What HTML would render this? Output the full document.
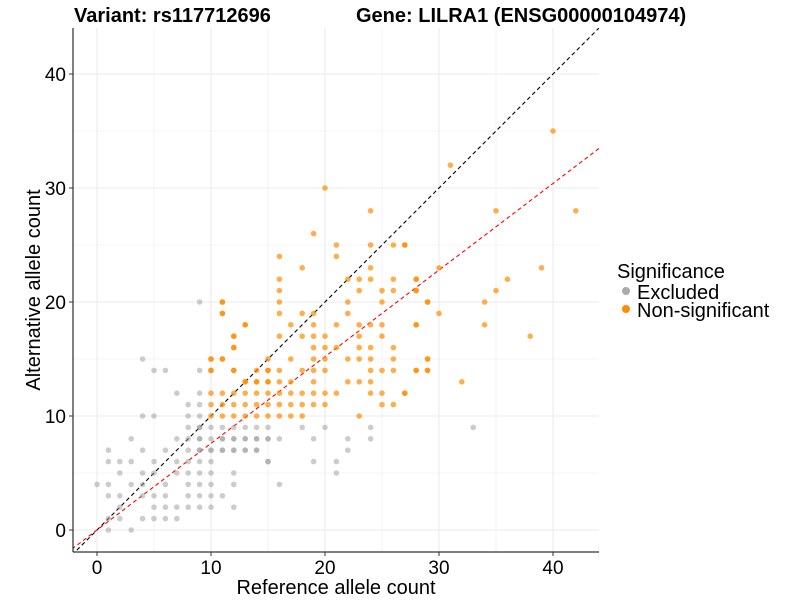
<!DOCTYPE html>
<html><head><meta charset="utf-8"><style>
body{margin:0;background:#fff;}
svg text{font-family:"Liberation Sans",sans-serif;}
</style></head><body>
<svg id="chart" width="800" height="600" xmlns="http://www.w3.org/2000/svg">
<text x="74" y="22" font-size="20" font-weight="bold" fill="#000">Variant: rs117712696</text>
<text x="356" y="22" font-size="20" font-weight="bold" fill="#000">Gene: LILRA1 (ENSG00000104974)</text>
<g id="grid"></g>
<g id="lines"></g>
<g id="pts"></g>
<g id="axes"></g>
<text x="336" y="594" font-size="20" text-anchor="middle">Reference allele count</text>
<text transform="translate(40,290) rotate(-90)" font-size="20" text-anchor="middle">Alternative allele count</text>
<g>
<text x="617" y="278" font-size="20">Significance</text>
<circle cx="626" cy="291" r="4" fill="#aaa"/>
<text x="637" y="299" font-size="20">Excluded</text>
<circle cx="626" cy="309" r="4" fill="#ff8c00"/>
<text x="637" y="317" font-size="20">Non-significant</text>
</g>
</svg>
<script>
const xTicks=[0,10,20,30,40];
const yTicks=[0,10,20,30,40];
const redSlope=[0.76];
const orangeX=[19,21,24,26,27,16,21,18,24,16,22,23,24,26,28,16,23,25,26,28,11,16,22,25,29,11,16,18,19,22,13,17,19,21,23,24,25,28,12,16,18,19,20,23,25,12,19,20,21,23,24,26,10,11,15,17,19,20,22,23,24,26,29,10,12,15,16,18,19,20,24,25,26,28,29,13,14,15,16,17,19,22,23,24,10,11,12,13,14,15,16,17,18,19,20,21,24,25,27,10,11,12,13,14,15,16,17,18,19,20,25,26,10,11,12,13,14,15,16,17,18,23,11,11,13,12,12,10,11,10,12,14,15,13,14,15,40,31,35,42,27,30,39,28,36,28,35,29,34,30,28,34,38,29,28,29,32,27,20,24];
const orangeY=[26,25,25,25,25,24,24,23,23,22,22,22,22,22,22,21,21,21,21,21,20,20,20,20,20,19,19,19,19,19,18,18,18,18,18,18,18,18,17,17,17,17,17,17,17,16,16,16,16,16,16,16,15,15,15,15,15,15,15,15,15,15,15,14,14,14,14,14,14,14,14,14,14,14,14,13,13,13,13,13,13,13,13,13,12,12,12,12,12,12,12,12,12,12,12,12,12,12,12,11,11,11,11,11,11,11,11,11,11,11,11,11,10,10,10,10,10,10,10,10,10,10,20,19,18,17,16,15,15,14,14,14,14,13,13,13,35,32,28,28,25,23,23,22,22,21,21,20,20,19,18,18,17,15,14,14,13,12,30,28];
const greyX=[9,4,5,6,9,7,9,8,9,4,5,8,9,8,9,10,11,12,13,14,15,3,7,8,9,10,11,12,13,14,15,1,4,6,8,9,10,11,12,13,14,1,2,3,5,7,8,9,10,15,2,4,5,7,8,9,10,12,0,1,3,4,6,8,9,10,12,1,2,4,5,6,8,9,10,11,2,5,6,7,8,9,10,12,1,2,4,5,6,7,1,3,18,20,24,19,22,24,22,15,19,21,21,16,33,9,9,11,12,13,14,15,16,9,10,11,12,13,14];
const greyY=[20,15,14,14,14,12,12,11,11,10,10,10,10,9,9,9,9,9,9,9,9,8,8,8,8,8,8,8,8,8,8,7,7,7,7,7,7,7,7,7,7,6,6,6,6,6,6,6,6,6,5,5,5,5,5,5,5,5,4,4,4,4,4,4,4,4,4,3,3,3,3,3,3,3,3,3,2,2,2,2,2,2,2,2,1,1,1,1,1,1,0,0,9,9,9,8,8,8,7,6,6,6,5,4,9,9,8,8,8,8,8,8,8,7,7,7,7,7,7];
const X0=97,PX=11.4,Y0=530;
function sx(v){return X0+v*PX;}
function sy(v){return Y0-v*PX;}
const NS='http://www.w3.org/2000/svg';
function mk(t,a,p){const e=document.createElementNS(NS,t);for(const k in a)e.setAttribute(k,a[k]);p.appendChild(e);return e;}
const L=73,R=599,T=28,B=552;
const grid=document.getElementById('grid');
for(let v=-0;v<=44;v+=5){ if(sx(v)<=R){const g=mk('line',{x1:sx(v),x2:sx(v),y1:T,y2:B,stroke:'#ebebeb','stroke-width':v%10?0.6:1.1},grid);

}}
for(let v=0;v<=44;v+=5){ if(sy(v)>=T){const g=mk('line',{x1:L,x2:R,y1:sy(v),y2:sy(v),stroke:'#ebebeb','stroke-width':v%10?0.6:1.1},grid);

}}
const pts=document.getElementById('pts');
greyX.forEach((x,i)=>{const c=mk('circle',{cx:sx(x),cy:sy(greyY[i]),r:2.8,fill:'#999','fill-opacity':0.5},pts);

});
orangeX.forEach((x,i)=>{const c=mk('circle',{cx:sx(x),cy:sy(orangeY[i]),r:2.8,fill:'#ff8c00','fill-opacity':0.7},pts);

});
const lines=document.getElementById('lines');
const xa=-2.2,xb=(R-X0)/PX;
const bl=mk('line',{x1:sx(xa),y1:sy(xa),x2:sx(xb),y2:sy(xb),stroke:'#000','stroke-width':1.1,'stroke-dasharray':'4 3'},lines);


const rl=mk('line',{x1:sx(xa),y1:sy(xa*redSlope[0]),x2:sx(xb),y2:sy(xb*redSlope[0]),stroke:'#ff0000','stroke-width':1.1,'stroke-dasharray':'4 3'},lines);


lines.setAttribute('clip-path','url(#clp)');
const defs=mk('defs',{},document.getElementById('chart'));
const cp=mk('clipPath',{id:'clp'},defs);mk('rect',{x:L,y:T,width:R-L,height:B-T},cp);
const axes=document.getElementById('axes');
const ax=mk('line',{x1:L,x2:R,y1:B,y2:B,stroke:'#000','stroke-width':1},axes);


const ay=mk('line',{x1:L,x2:L,y1:T,y2:B,stroke:'#000','stroke-width':1},axes);


xTicks.forEach(v=>{mk('line',{x1:sx(v),x2:sx(v),y1:B,y2:B+4,stroke:'#333'},axes);
const t=mk('text',{x:sx(v),y:B+22,'font-size':19,'text-anchor':'middle'},axes);t.textContent=v;

});
yTicks.forEach(v=>{mk('line',{x1:L-4,x2:L,y1:sy(v),y2:sy(v),stroke:'#333'},axes);
const t=mk('text',{x:L-7,y:sy(v)+7,'font-size':19,'text-anchor':'end'},axes);t.textContent=v;

});
</script>
</body></html>
